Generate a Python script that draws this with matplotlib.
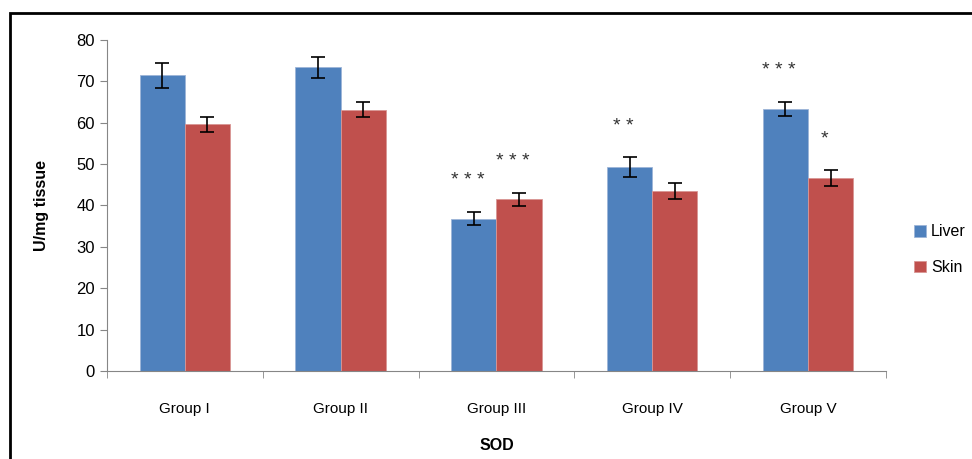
import matplotlib.pyplot as plt
import numpy as np
from matplotlib.patches import Rectangle

# datos
grupos = ['Group I', 'Group II', 'Group III', 'Group IV', 'Group V']
liver = [71.5, 73.4, 36.8, 49.2, 63.3]
liver_err = [3.0, 2.5, 1.6, 2.4, 1.7]
skin = [59.6, 63.1, 41.5, 43.5, 46.6]
skin_err = [1.9, 1.8, 1.6, 1.9, 1.9]
liver_sig = ['', '', '* * *', '* *', '* * *']
skin_sig = ['', '', '* * *', '', '*']

plt.rcParams['font.family'] = ['Liberation Sans', 'DejaVu Sans']

fig = plt.figure(figsize=(9.72, 4.59), dpi=100)
ax = fig.add_axes([0.110, 0.1917, 0.8015, 0.7212])

x = np.arange(len(grupos))
w = 0.29
azul = '#4F81BD'
rojo = '#C0504D'
ax.bar(x - w/2, liver, w, color=azul, edgecolor='#9DB5D8', lw=0.6, label='Liver',
       yerr=liver_err, error_kw=dict(ecolor='black', elinewidth=1.2, capsize=5, capthick=1.2))
ax.bar(x + w/2, skin, w, color=rojo, edgecolor='#D99694', lw=0.6, label='Skin',
       yerr=skin_err, error_kw=dict(ecolor='black', elinewidth=1.2, capsize=5, capthick=1.2))

# asteriscos de significancia
for i in range(len(grupos)):
    if liver_sig[i]:
        ax.text(x[i] - w/2 - 0.04, liver[i] + liver_err[i] + 5.5, liver_sig[i],
                ha='center', va='bottom', fontsize=14, color='#333333')
    if skin_sig[i]:
        ax.text(x[i] + w/2 - 0.04, skin[i] + skin_err[i] + 5.5, skin_sig[i],
                ha='center', va='bottom', fontsize=14, color='#333333')

ax.set_xlim(-0.5, len(grupos) - 0.5)
ax.set_ylim(0, 80)
ax.set_yticks(range(0, 81, 10))
ax.set_xticks(x)
ax.set_xticklabels(grupos)
ax.set_xticks(np.arange(-0.5, len(grupos), 1), minor=True)
ax.tick_params(axis='x', which='major', length=0, pad=22, labelsize=11)
ax.tick_params(axis='x', which='minor', length=5, color='#868686')
ax.tick_params(axis='y', length=5, color='#868686', labelsize=12)

for s in ['top', 'right']:
    ax.spines[s].set_visible(False)
for s in ['left', 'bottom']:
    ax.spines[s].set_color('#868686')

ax.set_ylabel('U/mg tissue', fontsize=11.5, fontweight='bold', labelpad=20)
ax.set_xlabel('SOD', fontsize=11.5, fontweight='bold', labelpad=16)

fig.legend(loc='upper left', bbox_to_anchor=(0.934, 0.525), frameon=False,
           handlelength=0.75, handleheight=0.75, handletextpad=0.3,
           labelspacing=1.3, fontsize=11.5, borderaxespad=0)

# marco negro de la figura
fig.patches.append(Rectangle((10/972, -0.05), 1.0, 1 - 13/459 + 0.05,
                             transform=fig.transFigure, fill=False,
                             edgecolor='black', lw=2))

fig.savefig('out.png', dpi=100)
